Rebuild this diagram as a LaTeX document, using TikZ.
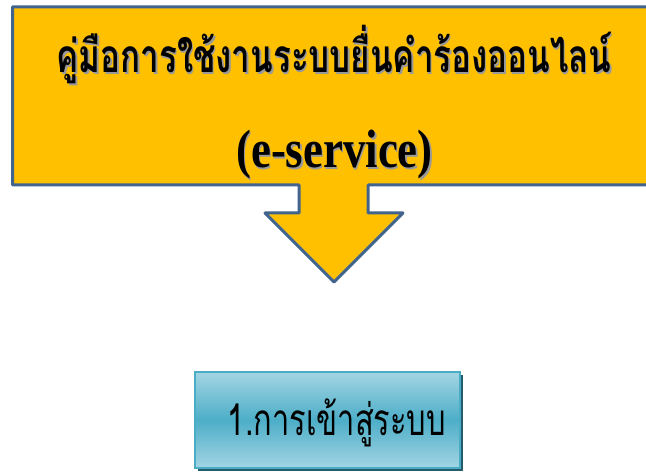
\documentclass[tikz,border=0pt]{standalone}
\usepackage{fontspec}
\newfontfamily\thaifont[Script=Thai]{Loma}
\newfontfamily\latinfont{Liberation Serif}
\usetikzlibrary{positioning,shadows}

\definecolor{calloutfill}{HTML}{FFC000}
\definecolor{calloutline}{HTML}{41648F}
\definecolor{boxline}{HTML}{4BACC6}
\definecolor{boxtop}{HTML}{A3D5E3}
\definecolor{boxmid}{HTML}{4DAEC8}
\definecolor{boxshadow}{HTML}{245C6B}

\newcommand{\squeeze}[2]{\scalebox{#1}[1]{#2}}

\begin{document}
\begin{tikzpicture}[x=1pt,y=1pt,
    heading/.style={font=\thaifont\bfseries\fontsize{46}{50}\selectfont, inner sep=0pt, anchor=base},
    headshadow/.style={heading, text=black!40},
    latinhead/.style={heading, font=\latinfont\bfseries\fontsize{54}{58}\selectfont},
    latinshadow/.style={latinhead, text=black!40},
    menubox/.style={draw=boxline, line width=1.5pt, minimum width=265pt, minimum height=96pt,
        text height=30pt, text depth=0pt,
        top color=boxtop, bottom color=boxtop, middle color=boxmid,
        font=\thaifont\fontsize{44}{48}\selectfont,
        drop shadow={shadow xshift=3pt, shadow yshift=-3pt, fill=boxshadow, opacity=1}}]

    \useasboundingbox (0,0) rectangle (646,472);
    \clip (0,0) rectangle (646,472);

    % callout with its arrow
    \draw[calloutline, fill=calloutfill, line width=3pt, line join=round]
        (12.5,465) -- (660,465) -- (660,287) -- (368,287) -- (368,259)
        -- (403,259) -- (334,190) -- (265,259) -- (299,259) -- (299,287)
        -- (12.5,287) -- cycle;

    \node[headshadow] at (335.5,397.5) {\squeeze{0.72}{คู่มือการใช้งานระบบยื่นคำร้องออนไลน์}};
    \node[heading] (title) at (334,399) {\squeeze{0.72}{คู่มือการใช้งานระบบยื่นคำร้องออนไลน์}};
    \node[latinshadow] at (336,302.5) {\squeeze{0.83}{(e-service)}};
    \node[latinhead] (eservice) at (334.5,304) {\squeeze{0.83}{(e-service)}};

    % first menu item
    \node[menubox] (login) at (327.5,52) {\hspace*{19pt}\squeeze{0.7}{1.การเข้าสู่ระบบ}};
\end{tikzpicture}
\end{document}
